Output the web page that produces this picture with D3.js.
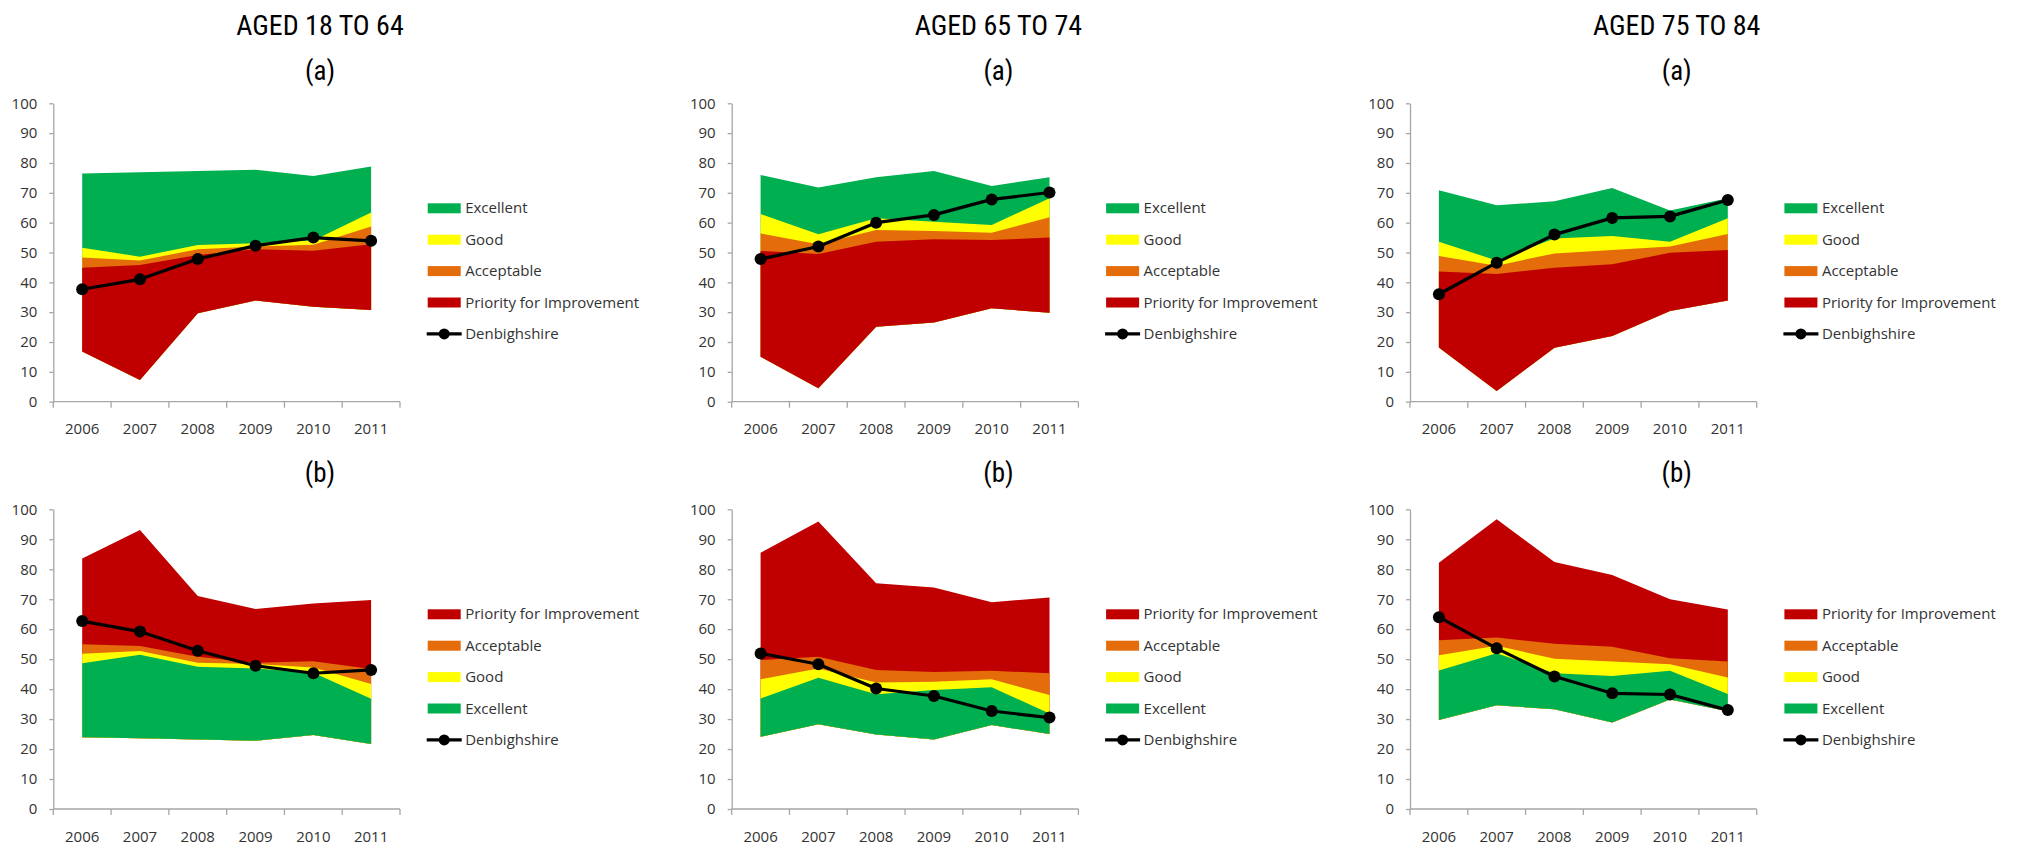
<!DOCTYPE html>
<html>
<head>
<meta charset="utf-8">
<script src="https://cdn.jsdelivr.net/npm/d3@7"></script>
<style>
  html, body { margin: 0; padding: 0; background: #ffffff; }
  svg { display: block; }
  .tick-label { font-family: 'Open Sans', 'Liberation Sans', sans-serif; font-size: 15px; fill: #333333; }
  .legend-label { font-family: 'Open Sans', 'Liberation Sans', sans-serif; font-size: 15px; fill: #333333; }
  .group-title { font-family: 'Liberation Sans Narrow', 'Arial Narrow', 'Roboto Condensed', sans-serif; font-stretch: condensed; font-size: 28px; fill: #000; }
  .sub-title { font-family: 'Liberation Sans Narrow', 'Arial Narrow', 'Roboto Condensed', sans-serif; font-stretch: condensed; font-size: 27px; fill: #000; }
</style>
</head>
<body>
<script>
// ---------------- DATA ----------------
const years = ['2006', '2007', '2008', '2009', '2010', '2011'];
const groupTitles = ['AGED 18 TO 64', 'AGED 65 TO 74', 'AGED 75 TO 84'];
const subTitles = ['(a)', '(b)'];
const yTicks = [0, 10, 20, 30, 40, 50, 60, 70, 80, 90, 100];
const legendA = ['Excellent', 'Good', 'Acceptable', 'Priority for Improvement', 'Denbighshire'];
const legendB = ['Priority for Improvement', 'Acceptable', 'Good', 'Excellent', 'Denbighshire'];

// Top row (a): band boundaries from bottom: lower edge, top of Priority, top of Acceptable, top of Good, top of Excellent
const a1864_base      = [16.8, 7.3, 29.6, 33.9, 31.8, 30.7];
const a1864_priority  = [44.9, 45.8, 49.2, 51.1, 50.6, 52.8];
const a1864_accept    = [48.3, 47.3, 51.1, 52.0, 52.6, 58.7];
const a1864_good      = [51.6, 48.6, 52.5, 53.1, 54.0, 63.4];
const a1864_excellent = [76.5, 76.9, 77.3, 77.7, 75.6, 78.8];
const a1864_denb      = [37.7, 41.0, 47.8, 52.3, 55.0, 53.9];

const a6574_base      = [15.1, 4.5, 25.1, 26.5, 31.3, 29.8];
const a6574_priority  = [50.5, 49.5, 53.6, 54.4, 54.2, 55.0];
const a6574_accept    = [56.4, 52.8, 57.5, 57.2, 56.6, 61.8];
const a6574_good      = [62.9, 56.1, 61.5, 60.3, 59.2, 68.2];
const a6574_excellent = [76.0, 71.8, 75.2, 77.3, 72.3, 75.2];
const a6574_denb      = [47.8, 52.0, 60.0, 62.6, 67.8, 70.1];

const a7584_base      = [18.2, 3.6, 18.1, 22.0, 30.4, 33.9];
const a7584_priority  = [43.6, 42.8, 44.9, 46.1, 49.9, 50.8];
const a7584_accept    = [48.8, 45.6, 49.7, 50.8, 52.0, 56.2];
const a7584_good      = [53.6, 47.3, 54.7, 55.5, 53.6, 61.5];
const a7584_excellent = [70.9, 65.8, 67.2, 71.6, 64.1, 68.2];
const a7584_denb      = [36.0, 46.6, 56.0, 61.6, 62.1, 67.6];

// Bottom row (b): band boundaries from bottom: lower edge, top of Excellent, top of Good, top of Acceptable, top of Priority
const b1864_base      = [23.9, 23.6, 23.2, 22.8, 24.7, 21.7];
const b1864_excellent = [48.6, 51.5, 47.5, 46.9, 45.5, 36.8];
const b1864_good      = [51.8, 52.7, 48.8, 48.4, 47.2, 41.7];
const b1864_accept    = [55.0, 54.4, 50.8, 48.8, 49.3, 46.7];
const b1864_priority  = [83.6, 93.1, 71.1, 66.7, 68.6, 69.7];
const b1864_denb      = [62.7, 59.2, 52.8, 47.8, 45.3, 46.4];

const b6574_base      = [24.1, 28.3, 24.9, 23.2, 28.0, 25.0];
const b6574_excellent = [36.9, 43.8, 38.3, 39.7, 40.6, 31.9];
const b6574_good      = [43.3, 46.9, 42.2, 42.5, 43.3, 38.0];
const b6574_accept    = [49.7, 50.8, 46.4, 45.7, 46.1, 45.3];
const b6574_priority  = [85.5, 95.9, 75.3, 73.9, 69.0, 70.6];
const b6574_denb      = [51.9, 48.3, 40.2, 37.7, 32.7, 30.5];

const b7584_base      = [29.7, 34.6, 33.3, 28.9, 36.5, 32.6];
const b7584_excellent = [46.2, 52.0, 45.3, 44.4, 46.1, 38.4];
const b7584_good      = [51.3, 54.5, 50.1, 49.2, 48.3, 43.9];
const b7584_accept    = [56.3, 57.2, 55.1, 54.1, 50.3, 49.2];
const b7584_priority  = [82.2, 96.7, 82.4, 78.1, 70.0, 66.6];
const b7584_denb      = [64.0, 53.6, 44.2, 38.6, 38.2, 33.0];

// ---------------- STYLE ----------------
const colors = {
  'Excellent': '#00B050',
  'Good': '#FFFF00',
  'Acceptable': '#E46C0A',
  'Priority for Improvement': '#C00000'
};
const axisColor = '#a6a6a6';

// panels: build from arrays
const panelsA = [
  { base: a1864_base, bands: [['Priority for Improvement', a1864_priority], ['Acceptable', a1864_accept], ['Good', a1864_good], ['Excellent', a1864_excellent]], denb: a1864_denb },
  { base: a6574_base, bands: [['Priority for Improvement', a6574_priority], ['Acceptable', a6574_accept], ['Good', a6574_good], ['Excellent', a6574_excellent]], denb: a6574_denb },
  { base: a7584_base, bands: [['Priority for Improvement', a7584_priority], ['Acceptable', a7584_accept], ['Good', a7584_good], ['Excellent', a7584_excellent]], denb: a7584_denb }
];
const panelsB = [
  { base: b1864_base, bands: [['Excellent', b1864_excellent], ['Good', b1864_good], ['Acceptable', b1864_accept], ['Priority for Improvement', b1864_priority]], denb: b1864_denb },
  { base: b6574_base, bands: [['Excellent', b6574_excellent], ['Good', b6574_good], ['Acceptable', b6574_accept], ['Priority for Improvement', b6574_priority]], denb: b6574_denb },
  { base: b7584_base, bands: [['Excellent', b7584_excellent], ['Good', b7584_good], ['Acceptable', b7584_accept], ['Priority for Improvement', b7584_priority]], denb: b7584_denb }
];

// ---------------- LAYOUT ----------------
const W = 2017, H = 848;
const colLeft = [53.3, 731.7, 1410];
const plotW = 346.7;
const rows = [
  { yTop: 103.3, yBot: 401.7, labelY: 434, subY: 80, legendY: 208.3, panels: panelsA, legend: legendA, sub: subTitles[0] },
  { yTop: 509.3, yBot: 809.0, labelY: 842, subY: 482, legendY: 614.3, panels: panelsB, legend: legendB, sub: subTitles[1] }
];

const svg = d3.select('body').append('svg').attr('width', W).attr('height', H);
svg.append('rect').attr('width', W).attr('height', H).attr('fill', '#fff');

// group titles
groupTitles.forEach((t, i) => {
  svg.append('text').attr('class', 'group-title')
    .attr('x', colLeft[i] + 266.7).attr('y', 35)
    .attr('text-anchor', 'middle').text(t);
});

rows.forEach((row, ri) => {
  row.panels.forEach((p, ci) => {
    const left = colLeft[ci];
    const g = svg.append('g');
    const x = d3.scaleBand().domain(years).range([left, left + plotW]).padding(0);
    const y = d3.scaleLinear().domain([0, 100]).range([row.yBot, row.yTop]);
    const cx = d => x(d) + x.bandwidth() / 2;

    // subtitle
    svg.append('text').attr('class', 'sub-title')
      .attr('x', left + 266.7).attr('y', row.subY)
      .attr('text-anchor', 'middle').text(row.sub);

    // areas: draw in order of descending top so lower bands overlay
    const ordered = p.bands.slice().reverse();
    ordered.forEach(([name, top]) => {
      const data = years.map((yr, k) => ({ yr, lo: p.base[k], hi: top[k] }));
      const area = d3.area().x(d => cx(d.yr)).y0(d => y(d.lo)).y1(d => y(d.hi));
      g.append('path').datum(data).attr('d', area).attr('fill', colors[name]);
    });

    // y axis
    const yAxis = d3.axisLeft(y).tickValues(yTicks).tickSize(4).tickSizeOuter(0).tickPadding(12);
    const ya = g.append('g').attr('transform', `translate(${left},0)`).call(yAxis);
    ya.select('.domain').attr('stroke', axisColor).attr('stroke-width', 1.3);
    ya.selectAll('.tick line').attr('stroke', axisColor).attr('stroke-width', 1.3);
    ya.selectAll('.tick text').attr('class', 'tick-label').attr('fill', '#333').style('font-size', '15px').style('font-family', "'Open Sans', 'Liberation Sans', sans-serif");

    // x axis line with tick marks at category boundaries
    g.append('line').attr('x1', left).attr('x2', left + plotW)
      .attr('y1', row.yBot).attr('y2', row.yBot)
      .attr('stroke', axisColor).attr('stroke-width', 1.3);
    const bounds = years.map(d => x(d)).concat([x.range()[1]]);
    g.selectAll('.xt').data(bounds).enter().append('line')
      .attr('x1', d => d).attr('x2', d => d)
      .attr('y1', row.yBot).attr('y2', row.yBot + 6)
      .attr('stroke', axisColor).attr('stroke-width', 1.3);
    g.selectAll('.xl').data(years).enter().append('text')
      .attr('class', 'tick-label')
      .attr('x', d => cx(d)).attr('y', row.labelY)
      .attr('text-anchor', 'middle').text(d => d);

    // Denbighshire line
    const line = d3.line().x((d, k) => cx(years[k])).y(d => y(d));
    g.append('path').datum(p.denb).attr('d', line)
      .attr('fill', 'none').attr('stroke', '#000').attr('stroke-width', 3.2).attr('stroke-linejoin', 'round');
    g.selectAll('.dot').data(p.denb).enter().append('circle')
      .attr('cx', (d, k) => cx(years[k])).attr('cy', d => y(d)).attr('r', 6).attr('fill', '#000');

    // legend
    const lx = left + 374.4;
    row.legend.forEach((name, k) => {
      const ly = row.legendY + k * 31.4;
      if (name === 'Denbighshire') {
        g.append('line').attr('x1', lx - 1).attr('x2', lx + 34).attr('y1', ly).attr('y2', ly)
          .attr('stroke', '#000').attr('stroke-width', 3.2);
        g.append('circle').attr('cx', lx + 16.5).attr('cy', ly).attr('r', 5.5).attr('fill', '#000');
      } else {
        g.append('rect').attr('x', lx).attr('y', ly - 5).attr('width', 33).attr('height', 10)
          .attr('fill', colors[name]);
      }
      g.append('text').attr('class', 'legend-label')
        .attr('x', lx + 37.5).attr('y', ly + 5).text(name);
    });
  });
});
</script>
</body>
</html>
